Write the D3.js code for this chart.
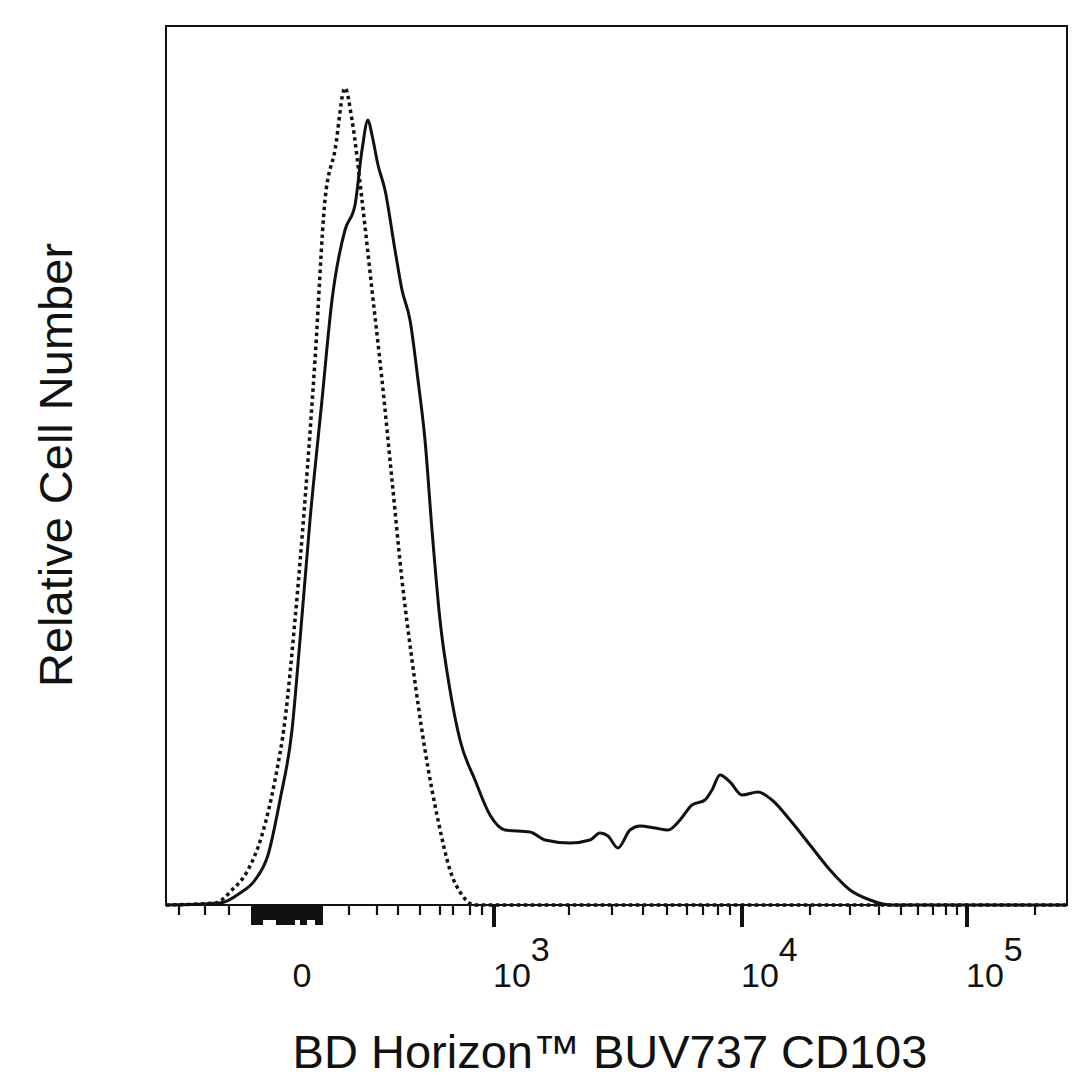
<!DOCTYPE html>
<html>
<head>
<meta charset="utf-8">
<script src="https://cdn.jsdelivr.net/npm/d3@7"></script>
<style>
  body { margin: 0; background: #fff; }
  text { font-family: "Liberation Sans", Arial, sans-serif; fill: #111; }
</style>
</head>
<body>
<svg id="chart" width="1086" height="1086"></svg>
<script>
// Values are in display channels (x) and relative counts (y)
var solidX = [0,54,74,89,102,114,126,134,144,156,166,179,189,196,202,206,212,219,229,236,244,252,259,266,274,284,294,309,324,339,364,379,404,424,434,442,452,464,474,489,502,514,526,539,546,554,564,576,592,606,624,644,664,684,704,724,901];
var solidY = [0,2,12,25,50,105,175,265,385,505,605,675,700,755,785,770,740,715,655,615,585,525,465,375,285,215,165,125,90,75,73,65,62,65,72,69,57,75,79,77,75,85,100,105,115,130,123,110,113,105,85,60,35,15,5,0,0];
var dottedX = [0,49,66,82,96,109,119,129,139,149,159,169,179,186,196,206,216,226,236,246,259,272,284,296,309,901];
var dottedY = [0,2,15,35,70,125,185,285,405,545,705,755,817,785,705,615,525,425,325,245,155,85,35,10,0,0];

// axis ticks (channel positions)
var majorTicks = [328, 576, 801];
var majorLabels = ["3", "4", "5"];
var zeroTick = 136;
var minorTicks = [13,39,63,183,211,232,254,274,287,304,316,
                  403,446,477,501,521,537,552,564,
                  644,684,713,735,752,767,780,791,869];
var blockTicks = [87,89,91,93,95,97,100,103,106,109,112,115,118,121,124,127,130,133,136,139,142,145,148,151,153,155];
var blockLong = [87,89,91,93,95,112,115,118,121,124,127,136,139,151,153,155];

var svg = d3.select("#chart");
var pLeft = 166, pRight = 1067, pTop = 26, pBottom = 905;

var x = d3.scaleLinear().domain([0, 901]).range([pLeft, pRight]);
var y = d3.scaleLinear().domain([0, 879]).range([pBottom, pTop]);

var line = d3.line()
    .x(function (d) { return x(d[0]); })
    .y(function (d) { return y(d[1]); })
    .curve(d3.curveMonotoneX);

svg.append("path")
    .datum(d3.zip(dottedX, dottedY))
    .attr("d", line)
    .attr("fill", "none").attr("stroke", "#111")
    .attr("stroke-width", 3.5).attr("stroke-dasharray", "3.5,3.5");

svg.append("path")
    .datum(d3.zip(solidX, solidY))
    .attr("d", line)
    .attr("fill", "none").attr("stroke", "#111").attr("stroke-width", 3);

svg.append("rect")
    .attr("x", pLeft).attr("y", pTop)
    .attr("width", pRight - pLeft).attr("height", pBottom - pTop)
    .attr("fill", "none").attr("stroke", "#111").attr("stroke-width", 2);

var ticks = svg.append("g");
ticks.selectAll(".minor").data(minorTicks).enter().append("line")
    .attr("x1", x).attr("x2", x).attr("y1", pBottom).attr("y2", pBottom + 10)
    .attr("stroke", "#111").attr("stroke-width", 2.2);
ticks.selectAll(".blk").data(blockTicks).enter().append("line")
    .attr("x1", x).attr("x2", x).attr("y1", pBottom)
    .attr("y2", function (d) { return pBottom + (blockLong.indexOf(d) >= 0 ? 20 : 15); })
    .attr("stroke", "#111").attr("stroke-width", 4);
ticks.selectAll(".major").data(majorTicks).enter().append("line")
    .attr("x1", x).attr("x2", x).attr("y1", pBottom).attr("y2", pBottom + 22)
    .attr("stroke", "#111").attr("stroke-width", 4);

svg.append("text").attr("x", x(zeroTick)).attr("y", 987)
    .attr("text-anchor", "middle").attr("font-size", 34).text("0");

majorTicks.forEach(function (t, i) {
    var lbl = svg.append("text").attr("x", x(t) - 1).attr("y", 987).attr("font-size", 34);
    lbl.append("tspan").text("10");
    lbl.append("tspan").attr("dy", -26).text(majorLabels[i]);
});

svg.append("text").attr("x", 610).attr("y", 1068)
    .attr("text-anchor", "middle").attr("font-size", 47).text("BD Horizon™ BUV737 CD103");

svg.append("text").attr("transform", "translate(72,465) rotate(-90)")
    .attr("text-anchor", "middle").attr("font-size", 47).text("Relative Cell Number");
</script>
</body>
</html>
